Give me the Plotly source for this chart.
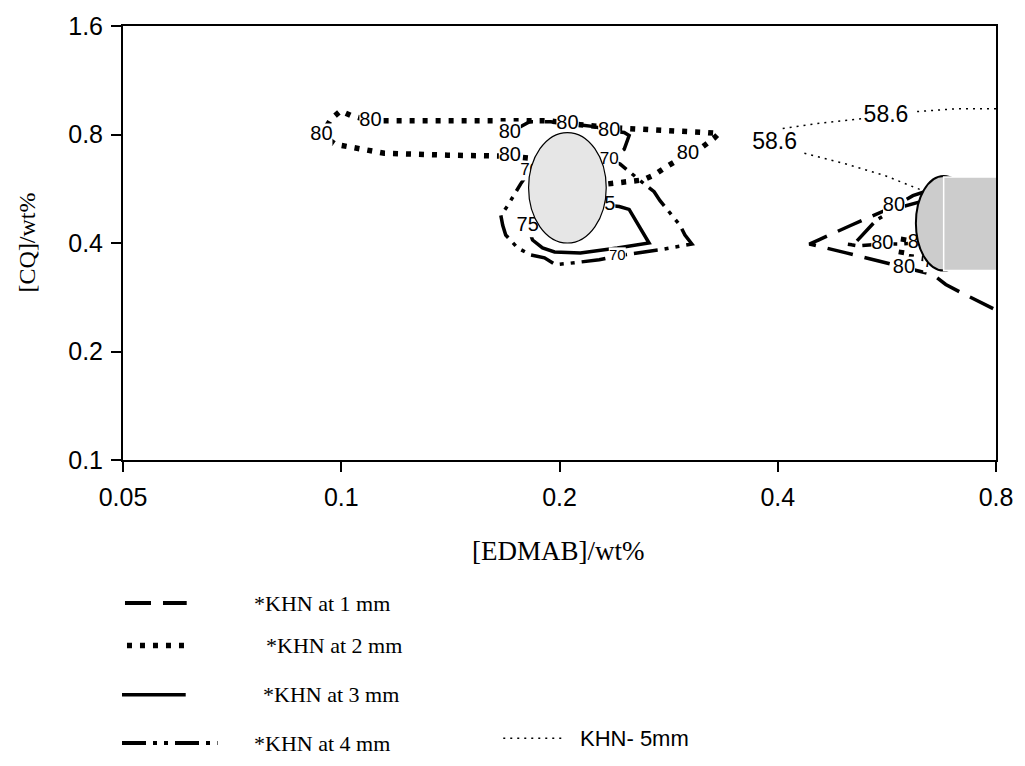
import math
import plotly.graph_objects as go

# ---------------- data (wt%) ----------------
x_ticks = [0.05, 0.1, 0.2, 0.4, 0.8]
x_ticktext = ["0.05", "0.1", "0.2", "0.4", "0.8"]
y_ticks = [0.1, 0.2, 0.4, 0.8, 1.6]
y_ticktext = ["0.1", "0.2", "0.4", "0.8", "1.6"]

# KHN at 1 mm (dashed)
khn1_c_x = [0.1708, 0.1819, 0.1944, 0.2051, 0.2234, 0.2342, 0.2456, 0.2495, 0.2456, 0.2255]
khn1_c_y = [0.8101, 0.8683, 0.8683, 0.8574, 0.8413, 0.8204, 0.8101, 0.7950, 0.7278, 0.6417]
khn1_r_x = [0.6504, 0.6144, 0.5786, 0.5576, 0.5329, 0.5050, 0.4550, 0.4422, 0.4971, 0.5641,
            0.5972, 0.6545, 0.6820, 0.7151, 0.8]
khn1_r_y = [0.5621, 0.5411, 0.5051, 0.4894, 0.4682, 0.4481, 0.4076, 0.3975, 0.3755, 0.3526,
            0.3417, 0.3270, 0.3070, 0.2918, 0.2606]

# KHN at 2 mm (dotted)
khn2_c_x = [0.2335, 0.2511, 0.2608, 0.2701, 0.2805, 0.3007, 0.3143, 0.3265, 0.3317, 0.3193,
            0.2960, 0.2743, 0.2543, 0.2342, 0.2137, 0.2051, 0.1926, 0.1403, 0.1161, 0.1097,
            0.1033, 0.0998, 0.0969, 0.0939, 0.0982, 0.1063, 0.1147, 0.1403, 0.1608, 0.1708,
            0.1819, 0.2051, 0.2335]
khn2_c_y = [0.5836, 0.5947, 0.5985, 0.6177, 0.6498, 0.7053, 0.7371, 0.7801, 0.8050, 0.8101,
            0.8153, 0.8256, 0.8308, 0.8361, 0.8520, 0.8629, 0.8738, 0.8738, 0.8738, 0.8738,
            0.9018, 0.9306, 0.8849, 0.8000, 0.7511, 0.7278, 0.7098, 0.7009, 0.6964, 0.6964,
            0.6877, 0.6417, 0.5836]
khn2_r_x = [0.5972, 0.5934, 0.5916, 0.6105, 0.6402]
khn2_r_y = [0.4155, 0.3851, 0.3708, 0.3662, 0.3616]

# KHN at 3 mm (solid)
khn3_c_x = [0.2350, 0.2418, 0.2495, 0.2658, 0.2403, 0.2137, 0.1969, 0.1895, 0.1836, 0.1808,
            0.1987, 0.2255, 0.2350]
khn3_c_y = [0.5083, 0.5051, 0.4957, 0.4000, 0.3875, 0.3755, 0.3779, 0.3875, 0.4076, 0.4452,
            0.4682, 0.4988, 0.5083]

# KHN at 4 mm (dash-dot-dot)
khn4_c_x = [0.1819, 0.1768, 0.1697, 0.1660, 0.1670, 0.1686, 0.1751, 0.1825, 0.1907, 0.1975,
            0.2097, 0.2185, 0.2269, 0.2403, 0.2535, 0.2617, 0.2743, 0.2969, 0.3045, 0.2979,
            0.2932, 0.2752, 0.2701, 0.2617, 0.2535, 0.2425, 0.2342, 0.2185, 0.1895, 0.1819]
khn4_c_y = [0.6338, 0.5836, 0.5083, 0.4772, 0.4481, 0.4208, 0.3875, 0.3708, 0.3638, 0.3482,
            0.3526, 0.3571, 0.3594, 0.3685, 0.3732, 0.3779, 0.3827, 0.3950, 0.3975, 0.4208,
            0.4481, 0.5244, 0.5551, 0.5836, 0.6138, 0.6622, 0.6791, 0.6622, 0.6417, 0.6338]
khn4_r_x = [0.6302, 0.5823, 0.5467, 0.5082, 0.4971, 0.5163, 0.5576, 0.5934, 0.6262, 0.6504]
khn4_r_y = [0.5210, 0.4988, 0.4624, 0.3950, 0.3975, 0.3925, 0.3975, 0.3975, 0.4000, 0.4000]

# KHN 5 mm (fine dotted), gaps where labels sit
khn5_x = [0.8, 0.7039, 0.6163, None, 0.5212, 0.4521, 0.4048, None, 0.4353, 0.4971, 0.5641, 0.6342, 0.6608]
khn5_y = [0.9424, 0.9424, 0.9247, None, 0.8849, 0.8574, 0.8308, None, 0.7098, 0.6622, 0.6138, 0.5587, 0.5311]

# contour labels
lab80_x = [0.0939, 0.1097, 0.1708, 0.3007, 0.1708, 0.2051, 0.2342, 0.5786, 0.5972, 0.5576, 0.6262]
lab80_y = [0.8000, 0.8738, 0.6964, 0.7053, 0.8101, 0.8574, 0.8204, 0.5051, 0.3417, 0.3975, 0.4000]
lab70_x = [0.1819, 0.2342, 0.6545]
lab70_y = [0.6338, 0.6791, 0.3526]
lab70s_x = [0.2403]
lab70s_y = [0.3685]
lab75_x = [0.1808, 0.2306]
lab75_y = [0.4452, 0.5083]
lab586_x = [0.5641, 0.3960]
lab586_y = [0.8962, 0.7559]

# optimum regions (ellipses / box) in wt%
center_ell = dict(x0=0.1813, x1=0.2320, y0=0.400, y1=0.8101)
right_ell = dict(x0=0.6203, x1=0.7405, y0=0.3353, y1=0.6138)
right_box = dict(x0=0.6775, x1=0.8038, y0=0.3353, y1=0.6100)

SANS = "Liberation Sans, Arial, sans-serif"
SERIF = "Liberation Serif, Times New Roman, serif"

DASH1 = "26px,12px"
DASH2 = "5px,8px"
DASH4 = "24px,7px,4px,7px,4px,7px"
DASH5 = "2px,5px"
LW = 3.5

fig = go.Figure()


def add_line(x, y, dash, width=LW):
    fig.add_trace(go.Scatter(x=x, y=y, mode="lines", showlegend=False, hoverinfo="skip",
                             line=dict(color="black", width=width, dash=dash)))


add_line(khn2_c_x, khn2_c_y, DASH2, 5.5)
add_line(khn2_r_x, khn2_r_y, DASH2, 5.5)
add_line(khn1_c_x, khn1_c_y, DASH1)
add_line(khn1_r_x, khn1_r_y, DASH1)
add_line(khn3_c_x, khn3_c_y, "solid")
add_line(khn4_c_x, khn4_c_y, DASH4)
add_line(khn4_r_x, khn4_r_y, DASH4)
add_line(khn5_x, khn5_y, DASH5, 1.5)


def add_labels(x, y, text, size, mask):
    fig.add_trace(go.Scatter(
        x=x, y=y, mode="markers+text" if mask else "text", text=[text] * len(x),
        textposition="middle center", showlegend=False, hoverinfo="skip",
        marker=dict(symbol="square", size=mask, color="white", line=dict(width=0)) if mask else None,
        textfont=dict(family=SANS, size=size, color="black")))


add_labels(lab80_x, lab80_y, "80", 20, 22)
add_labels(lab70_x, lab70_y, "70", 17, 19)
add_labels(lab70s_x, lab70s_y, "70", 15, 17)
add_labels(lab75_x, lab75_y, "75", 20, 22)
add_labels(lab586_x, lab586_y, "58.6", 23, 0)

shapes = [
    dict(type="circle", xref="x", yref="y", layer="above", fillcolor="#e6e6e6",
         line=dict(color="black", width=1.2), **center_ell),
    dict(type="circle", xref="x", yref="y", layer="above", fillcolor="#cccccc",
         line=dict(color="black", width=2), **right_ell),
    dict(type="rect", xref="x", yref="y", layer="above", fillcolor="#cccccc",
         line=dict(color="white", width=1.5), **right_box),
]

# legend drawn below the plot (paper coordinates)
L, R, T, B = 123, 1000, 20, 460


def pxx(v):
    return (v - L) / (R - L)


def pyy(v):
    return (B - v) / (B - T)


legend_items = [
    (125, 187, 605, DASH1, 4, "*KHN at 1 mm", 253, SERIF),
    (127, 192, 648, DASH2, 5.5, "*KHN at 2 mm", 265, SERIF),
    (122, 186, 698, "solid", 3.5, "*KHN at 3 mm", 262, SERIF),
    (122, 218, 747, DASH4, 4, "*KHN at 4 mm", 253, SERIF),
    (505, 566, 742, DASH5, 1.5, "KHN- 5mm", 580, SANS),
]
annotations = []
for x0, x1, yy, dash, w, txt, tx, fam in legend_items:
    shapes.append(dict(type="line", xref="paper", yref="paper", x0=pxx(x0), x1=pxx(x1),
                       y0=pyy(yy), y1=pyy(yy), line=dict(color="black", width=w, dash=dash)))
    annotations.append(dict(xref="paper", yref="paper", x=pxx(tx), y=pyy(yy), text=txt,
                            showarrow=False, xanchor="left", yanchor="middle",
                            font=dict(family=fam, size=22, color="black")))

annotations.append(dict(xref="paper", yref="paper", x=pxx(560), y=pyy(552), text="[EDMAB]/wt%",
                        showarrow=False, xanchor="center", yanchor="middle",
                        font=dict(family=SERIF, size=27, color="black")))
annotations.append(dict(xref="paper", yref="paper", x=pxx(27), y=pyy(239), text="[CQ]/wt%",
                        showarrow=False, xanchor="center", yanchor="middle", textangle=-90,
                        font=dict(family=SERIF, size=24, color="black")))

axis_common = dict(type="log", showgrid=False, zeroline=False, showline=True, linecolor="black",
                   linewidth=2, mirror=True, ticks="outside", ticklen=10, tickwidth=1.5,
                   tickcolor="black", tickfont=dict(family=SANS, size=25, color="black"))

fig.update_layout(
    width=1025, height=766,
    margin=dict(l=L, r=1025 - R, t=T, b=766 - B, pad=0),
    paper_bgcolor="white", plot_bgcolor="white",
    showlegend=False,
    xaxis=dict(range=[math.log10(0.05), math.log10(0.8)], tickvals=x_ticks, ticktext=x_ticktext,
               ticklabelstandoff=4, **axis_common),
    yaxis=dict(range=[math.log10(0.1), math.log10(1.6)], tickvals=y_ticks, ticktext=y_ticktext,
               ticklabelstandoff=3, **axis_common),
    shapes=shapes,
    annotations=annotations,
)

fig.write_html("out.html")
